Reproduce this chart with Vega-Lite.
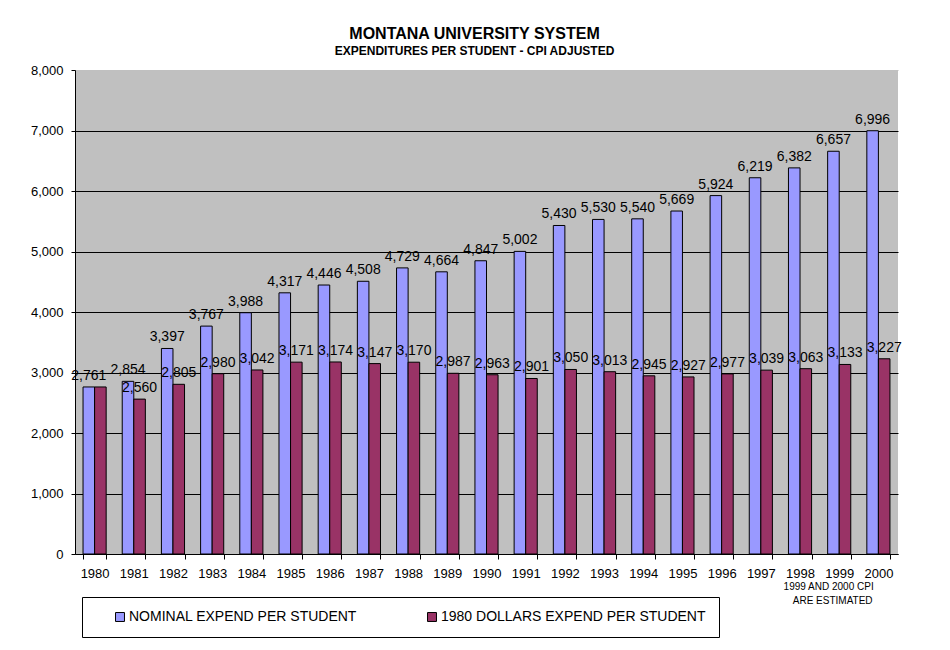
{
  "$schema": "https://vega.github.io/schema/vega-lite/v6.json",
  "autosize": "none",
  "width": 823,
  "height": 484,
  "padding": {"left": 75, "top": 70, "right": 52, "bottom": 96},
  "background": "white",
  "config": {
    "font": "Liberation Sans",
    "view": {"fill": "#c0c0c0", "stroke": null}
  },
  "title": {
    "text": "MONTANA UNIVERSITY SYSTEM",
    "subtitle": "EXPENDITURES PER STUDENT - CPI ADJUSTED",
    "font": "Liberation Sans",
    "fontSize": 16,
    "fontWeight": "bold",
    "color": "black",
    "subtitleFont": "Liberation Sans",
    "subtitleFontSize": 12,
    "subtitleFontWeight": "bold",
    "subtitleColor": "black",
    "subtitlePadding": 4,
    "anchor": "middle",
    "dx": -12,
    "offset": 7
  },
  "datasets": {
    "bars": [
      {"year": "1980", "series": "NOMINAL EXPEND PER STUDENT", "value": 2761},
      {"year": "1981", "series": "NOMINAL EXPEND PER STUDENT", "value": 2854},
      {"year": "1982", "series": "NOMINAL EXPEND PER STUDENT", "value": 3397},
      {"year": "1983", "series": "NOMINAL EXPEND PER STUDENT", "value": 3767},
      {"year": "1984", "series": "NOMINAL EXPEND PER STUDENT", "value": 3988},
      {"year": "1985", "series": "NOMINAL EXPEND PER STUDENT", "value": 4317},
      {"year": "1986", "series": "NOMINAL EXPEND PER STUDENT", "value": 4446},
      {"year": "1987", "series": "NOMINAL EXPEND PER STUDENT", "value": 4508},
      {"year": "1988", "series": "NOMINAL EXPEND PER STUDENT", "value": 4729},
      {"year": "1989", "series": "NOMINAL EXPEND PER STUDENT", "value": 4664},
      {"year": "1990", "series": "NOMINAL EXPEND PER STUDENT", "value": 4847},
      {"year": "1991", "series": "NOMINAL EXPEND PER STUDENT", "value": 5002},
      {"year": "1992", "series": "NOMINAL EXPEND PER STUDENT", "value": 5430},
      {"year": "1993", "series": "NOMINAL EXPEND PER STUDENT", "value": 5530},
      {"year": "1994", "series": "NOMINAL EXPEND PER STUDENT", "value": 5540},
      {"year": "1995", "series": "NOMINAL EXPEND PER STUDENT", "value": 5669},
      {"year": "1996", "series": "NOMINAL EXPEND PER STUDENT", "value": 5924},
      {"year": "1997", "series": "NOMINAL EXPEND PER STUDENT", "value": 6219},
      {"year": "1998", "series": "NOMINAL EXPEND PER STUDENT", "value": 6382},
      {"year": "1999", "series": "NOMINAL EXPEND PER STUDENT", "value": 6657},
      {"year": "2000", "series": "NOMINAL EXPEND PER STUDENT", "value": 6996},
      {"year": "1980", "series": "1980 DOLLARS EXPEND PER STUDENT", "value": 2761},
      {"year": "1981", "series": "1980 DOLLARS EXPEND PER STUDENT", "value": 2560},
      {"year": "1982", "series": "1980 DOLLARS EXPEND PER STUDENT", "value": 2805},
      {"year": "1983", "series": "1980 DOLLARS EXPEND PER STUDENT", "value": 2980},
      {"year": "1984", "series": "1980 DOLLARS EXPEND PER STUDENT", "value": 3042},
      {"year": "1985", "series": "1980 DOLLARS EXPEND PER STUDENT", "value": 3171},
      {"year": "1986", "series": "1980 DOLLARS EXPEND PER STUDENT", "value": 3174},
      {"year": "1987", "series": "1980 DOLLARS EXPEND PER STUDENT", "value": 3147},
      {"year": "1988", "series": "1980 DOLLARS EXPEND PER STUDENT", "value": 3170},
      {"year": "1989", "series": "1980 DOLLARS EXPEND PER STUDENT", "value": 2987},
      {"year": "1990", "series": "1980 DOLLARS EXPEND PER STUDENT", "value": 2963},
      {"year": "1991", "series": "1980 DOLLARS EXPEND PER STUDENT", "value": 2901},
      {"year": "1992", "series": "1980 DOLLARS EXPEND PER STUDENT", "value": 3050},
      {"year": "1993", "series": "1980 DOLLARS EXPEND PER STUDENT", "value": 3013},
      {"year": "1994", "series": "1980 DOLLARS EXPEND PER STUDENT", "value": 2945},
      {"year": "1995", "series": "1980 DOLLARS EXPEND PER STUDENT", "value": 2927},
      {"year": "1996", "series": "1980 DOLLARS EXPEND PER STUDENT", "value": 2977},
      {"year": "1997", "series": "1980 DOLLARS EXPEND PER STUDENT", "value": 3039},
      {"year": "1998", "series": "1980 DOLLARS EXPEND PER STUDENT", "value": 3063},
      {"year": "1999", "series": "1980 DOLLARS EXPEND PER STUDENT", "value": 3133},
      {"year": "2000", "series": "1980 DOLLARS EXPEND PER STUDENT", "value": 3227}
    ],
    "note": [
      {"year": "1999", "value": 0, "line1": "1999 AND 2000 CPI", "line2": "ARE ESTIMATED"}
    ]
  },
  "layer": [
    {
      "data": {"name": "bars"},
      "mark": {"type": "bar", "stroke": "black", "strokeWidth": 1},
      "encoding": {
        "x": {
          "field": "year",
          "type": "nominal",
          "scale": {"paddingInner": 0.41, "paddingOuter": 0.205},
          "axis": {
            "title": null,
            "labelAngle": 0,
            "labelFont": "Liberation Sans",
            "labelFontSize": 13,
            "labelColor": "black",
            "labelPadding": 8,
            "tickBand": "extent",
            "tickColor": "black",
            "tickSize": 5,
            "domainColor": "black",
            "grid": false
          }
        },
        "xOffset": {
          "field": "series",
          "type": "nominal",
          "sort": ["NOMINAL EXPEND PER STUDENT", "1980 DOLLARS EXPEND PER STUDENT"],
          "scale": {"paddingInner": 0, "paddingOuter": 0}
        },
        "y": {
          "field": "value",
          "type": "quantitative",
          "scale": {"domain": [0, 8000], "nice": false},
          "axis": {
            "title": null,
            "values": [0, 1000, 2000, 3000, 4000, 5000, 6000, 7000, 8000],
            "labelExpr": "format(datum.value, ',')",
            "labelFont": "Liberation Sans",
            "labelFontSize": 13,
            "labelColor": "black",
            "labelPadding": 8,
            "tickColor": "black",
            "tickSize": 4,
            "domainColor": "black",
            "grid": true,
            "gridColor": {"condition": {"test": "datum.value == 8000", "value": "#c0c0c0"}, "value": "black"},
            "gridOpacity": 1
          }
        },
        "color": {
          "field": "series",
          "type": "nominal",
          "sort": ["NOMINAL EXPEND PER STUDENT", "1980 DOLLARS EXPEND PER STUDENT"],
          "scale": {
            "domain": ["NOMINAL EXPEND PER STUDENT", "1980 DOLLARS EXPEND PER STUDENT"],
            "range": ["#9999ff", "#993366"]
          },
          "legend": {
            "title": null,
            "orient": "none",
            "legendX": 7,
            "legendY": 527,
            "direction": "horizontal",
            "symbolType": "square",
            "symbolSize": 80,
            "symbolStrokeColor": "black",
            "symbolStrokeWidth": 1,
            "symbolOffset": 18,
            "labelFont": "Liberation Sans",
            "labelFontSize": 14,
            "labelColor": "black",
            "labelOffset": 2,
            "labelLimit": 400,
            "columnPadding": 50,
            "padding": 13,
            "strokeColor": "black",
            "fillColor": "white"
          }
        }
      }
    },
    {
      "data": {"name": "bars"},
      "transform": [
        {"filter": "!(datum.year == '1980' && datum.series == '1980 DOLLARS EXPEND PER STUDENT')"}
      ],
      "mark": {"type": "text", "baseline": "bottom", "dy": -4, "font": "Liberation Sans", "fontSize": 14, "color": "black"},
      "encoding": {
        "x": {"field": "year", "type": "nominal"},
        "xOffset": {
          "field": "series",
          "type": "nominal",
          "sort": ["NOMINAL EXPEND PER STUDENT", "1980 DOLLARS EXPEND PER STUDENT"]
        },
        "y": {"field": "value", "type": "quantitative"},
        "text": {"field": "value", "type": "quantitative", "format": ","}
      }
    },
    {
      "data": {"name": "note"},
      "mark": {
        "type": "text",
        "baseline": "middle",
        "align": "center",
        "dx": 1,
        "dy": 33,
        "font": "Liberation Sans",
        "fontSize": 10,
        "color": "black"
      },
      "encoding": {
        "x": {"field": "year", "type": "nominal", "bandPosition": 0},
        "y": {"field": "value", "type": "quantitative"},
        "text": {"field": "line1"}
      }
    },
    {
      "data": {"name": "note"},
      "mark": {
        "type": "text",
        "baseline": "middle",
        "align": "center",
        "dx": 5,
        "dy": 47,
        "font": "Liberation Sans",
        "fontSize": 10,
        "color": "black"
      },
      "encoding": {
        "x": {"field": "year", "type": "nominal", "bandPosition": 0},
        "y": {"field": "value", "type": "quantitative"},
        "text": {"field": "line2"}
      }
    }
  ]
}
